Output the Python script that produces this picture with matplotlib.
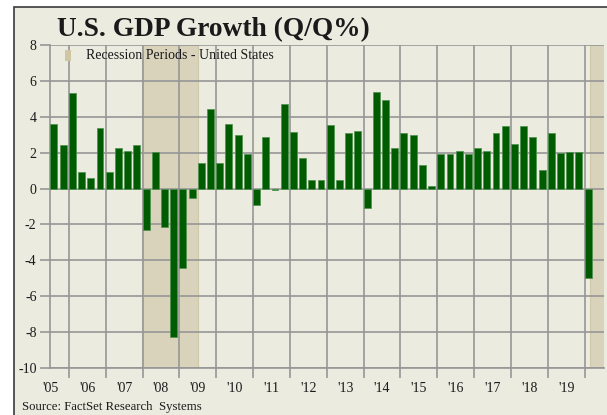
import matplotlib
matplotlib.use('Agg')
import matplotlib.pyplot as plt
from matplotlib.patches import Rectangle
import numpy as np

# 분기별 GDP 성장률 (2005Q3 ~ 2020Q1)
quarters = ['2005Q3', '2005Q4',
            '2006Q1', '2006Q2', '2006Q3', '2006Q4',
            '2007Q1', '2007Q2', '2007Q3', '2007Q4',
            '2008Q1', '2008Q2', '2008Q3', '2008Q4',
            '2009Q1', '2009Q2', '2009Q3', '2009Q4',
            '2010Q1', '2010Q2', '2010Q3', '2010Q4',
            '2011Q1', '2011Q2', '2011Q3', '2011Q4',
            '2012Q1', '2012Q2', '2012Q3', '2012Q4',
            '2013Q1', '2013Q2', '2013Q3', '2013Q4',
            '2014Q1', '2014Q2', '2014Q3', '2014Q4',
            '2015Q1', '2015Q2', '2015Q3', '2015Q4',
            '2016Q1', '2016Q2', '2016Q3', '2016Q4',
            '2017Q1', '2017Q2', '2017Q3', '2017Q4',
            '2018Q1', '2018Q2', '2018Q3', '2018Q4',
            '2019Q1', '2019Q2', '2019Q3', '2019Q4',
            '2020Q1']
growth = [3.6, 2.45,
          5.35, 0.9, 0.6, 3.4,
          0.9, 2.25, 2.1, 2.45,
          -2.3, 2.05, -2.15, -8.3,
          -4.4, -0.55, 1.4, 4.45,
          1.45, 3.6, 3.0, 1.95,
          -0.9, 2.85, -0.1, 4.7,
          3.15, 1.7, 0.5, 0.5,
          3.55, 0.5, 3.1, 3.2,
          -1.1, 5.4, 4.95, 2.25,
          3.1, 3.0, 1.3, 0.15,
          1.95, 1.9, 2.1, 1.95,
          2.25, 2.1, 3.1, 3.5,
          2.5, 3.5, 2.9, 1.05,
          3.1, 2.0, 2.05, 2.05,
          -5.0]
years = ["'05", "'06", "'07", "'08", "'09", "'10", "'11", "'12",
         "'13", "'14", "'15", "'16", "'17", "'18", "'19"]
# 경기침체 구간 (분기 인덱스 기준)
recessions = [(9.9, 16.0), (58.6, 61.0)]

bg = '#ECEBE0'
green = '#005C00'
shade = '#D9D3BC'
grid = '#969696'
serif = 'Liberation Serif'

fig = plt.figure(figsize=(6.07, 4.15), dpi=100, facecolor='white')
fig.patches.append(Rectangle((13.5 / 607, -0.05), 1.1, 1.033, transform=fig.transFigure,
                             facecolor=bg, edgecolor='#3a3a3a', linewidth=1.2, zorder=-10))

ax = fig.add_axes([50.5 / 607, 1 - 368 / 415, 553.5 / 607, 323 / 415])
ax.set_facecolor(bg)

for start, end in recessions:
    ax.axvspan(start, end, facecolor=shade, edgecolor='#CFC8A8', linewidth=0.8, zorder=0)

x = np.arange(len(quarters))
ax.bar(x, growth, width=0.75, align='edge', color=green,
       edgecolor='#4F8F4F', linewidth=0.5, zorder=3)

ax.set_xlim(0.1, 60.1)
ax.set_ylim(-10, 8)

# 연도 경계 (눈금선) 와 연도 라벨 (연도 가운데)
ax.set_xticks(np.arange(2, 59, 4))
ax.set_xticklabels([])
ax.set_xticks(np.arange(0, 57, 4), minor=True)
ax.set_xticklabels(years, minor=True, fontfamily=serif, fontsize=10, color='#1a1a1a')
ax.tick_params(axis='x', which='major', length=7, width=1.2, color=grid)
ax.tick_params(axis='x', which='minor', length=0, pad=10)

ax.set_yticks(np.arange(-10, 9, 2))
ax.set_yticklabels([str(v) for v in range(-10, 9, 2)], fontfamily=serif,
                   fontsize=10, color='#1a1a1a')
ax.tick_params(axis='y', length=7, width=1.2, color=grid, pad=3)

ax.grid(True, which='major', color=grid, linewidth=1.2, zorder=1)
ax.set_axisbelow(True)
for side in ['top', 'right']:
    ax.spines[side].set_visible(False)
for side in ['left', 'bottom']:
    ax.spines[side].set_color(grid)
    ax.spines[side].set_linewidth(1.2)

# 범례
ax.add_patch(Rectangle((0.0262, 0.950), 0.0108, 0.034, transform=ax.transAxes,
                       facecolor='#CFC6A4', edgecolor='none', zorder=4))
ax.text(0.0642, 0.969, 'Recession Periods - United States', transform=ax.transAxes,
        fontfamily=serif, fontsize=10, color='#1a1a1a', va='center', ha='left', zorder=4)

fig.text(57 / 607, 1 - 36 / 415, 'U.S. GDP Growth (Q/Q%)', fontfamily=serif,
         fontsize=19.7, fontweight='bold', color='#1a1a1a', va='baseline', ha='left')
fig.text(22 / 607, 1 - 407 / 415, 'Source: FactSet Research  Systems', fontfamily=serif,
         fontsize=9.2, color='#1a1a1a', va='center', ha='left')

fig.savefig('out.png', dpi=100, facecolor='white')
